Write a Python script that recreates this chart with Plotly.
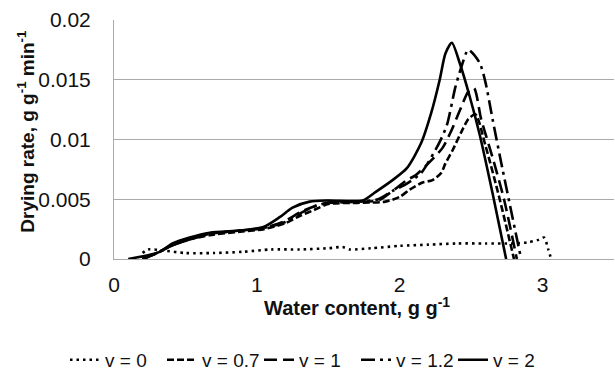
import plotly.graph_objects as go

# Water content (g g-1) and drying rate (g g-1 min-1) for each air velocity
x_v0 = [0.20, 0.24, 0.35, 0.50, 0.70, 0.90, 1.10, 1.30, 1.50, 1.60, 1.65, 1.80, 2.00, 2.20,
        2.40, 2.60, 2.80, 2.90, 2.97, 3.01, 3.04, 3.06]
y_v0 = [0.0005, 0.0008, 0.0007, 0.0005, 0.0005, 0.0006, 0.0008, 0.0008, 0.0009, 0.0010, 0.0008,
        0.0009, 0.0011, 0.0012, 0.0013, 0.0013, 0.0013, 0.0014, 0.0016, 0.0018, 0.0008, 0.0]

x_v07 = [0.20, 0.30, 0.40, 0.52, 0.67, 0.90, 1.05, 1.20, 1.30, 1.40, 1.50, 1.70, 1.90, 2.00,
         2.07, 2.16, 2.23, 2.29, 2.32, 2.37, 2.43, 2.48, 2.53, 2.60, 2.70, 2.80]
y_v07 = [0.0, 0.0005, 0.0011, 0.0016, 0.0020, 0.0023, 0.0025, 0.0030, 0.0036, 0.0041, 0.0046,
         0.0047, 0.0048, 0.0052, 0.0058, 0.0064, 0.0066, 0.0072, 0.0080, 0.0091, 0.0106, 0.0117,
         0.0121, 0.0095, 0.0050, 0.0]

x_v1 = [0.20, 0.30, 0.40, 0.52, 0.67, 0.90, 1.05, 1.20, 1.30, 1.40, 1.50, 1.70, 1.85, 1.95,
        2.05, 2.11, 2.20, 2.30, 2.36, 2.43, 2.48, 2.52, 2.57, 2.65, 2.73, 2.82]
y_v1 = [0.0, 0.0005, 0.0011, 0.0016, 0.0021, 0.0024, 0.0026, 0.0032, 0.0039, 0.0044, 0.0047,
        0.0048, 0.0049, 0.0057, 0.0066, 0.0070, 0.0080, 0.0093, 0.0107, 0.0127, 0.0140, 0.0143,
        0.0117, 0.0085, 0.0050, 0.0]

x_v12 = [0.20, 0.30, 0.40, 0.52, 0.67, 0.90, 1.05, 1.20, 1.30, 1.40, 1.50, 1.70, 1.85, 1.95,
         2.05, 2.15, 2.22, 2.28, 2.33, 2.39, 2.43, 2.48, 2.56, 2.60, 2.65, 2.72, 2.85]
y_v12 = [0.0, 0.0005, 0.0011, 0.0016, 0.0021, 0.0024, 0.0026, 0.0031, 0.0038, 0.0044, 0.0047,
         0.0048, 0.0050, 0.0057, 0.0063, 0.0072, 0.0085, 0.0098, 0.0112, 0.0144, 0.0160, 0.0175,
         0.0164, 0.0148, 0.0117, 0.0075, 0.0]

x_v2 = [0.10, 0.23, 0.32, 0.41, 0.53, 0.67, 0.90, 1.05, 1.16, 1.25, 1.37, 1.50, 1.74, 1.83,
        1.95, 2.05, 2.15, 2.22, 2.28, 2.32, 2.365, 2.42, 2.49, 2.56, 2.65, 2.745]
y_v2 = [0.0, 0.0003, 0.0006, 0.0013, 0.0018, 0.0022, 0.0024, 0.0027, 0.0035, 0.0043, 0.0048,
        0.0049, 0.0049, 0.0056, 0.0066, 0.0076, 0.0097, 0.0122, 0.0150, 0.0172, 0.0181, 0.0164,
        0.0136, 0.0104, 0.0055, 0.0]

labels = ["v = 0", "v = 0.7", "v = 1", "v = 1.2", "v = 2"]
xs = [x_v0, x_v07, x_v1, x_v12, x_v2]
ys = [y_v0, y_v07, y_v1, y_v12, y_v2]
dashes = ["2.5px,4px", "7px,3px", "13px,6px", "14px,5px,3px,5px", "solid"]

x_ticks = [0, 1, 2, 3]
y_ticks = [0, 0.005, 0.01, 0.015, 0.02]

FONT = "Liberation Sans, Arial, sans-serif"
GRID = "#A7ABAE"
INK = "#111111"

fig = go.Figure()
for xv, yv, name, dash in zip(xs, ys, labels, dashes):
    fig.add_trace(go.Scatter(
        x=xv, y=yv, mode="lines", name=name,
        line=dict(color="black", width=2.6, dash=dash, shape="spline", smoothing=0.7),
    ))

fig.update_layout(
    width=615, height=380,
    margin=dict(l=114, r=1, t=20, b=121),
    paper_bgcolor="white", plot_bgcolor="white",
    font=dict(family=FONT, color=INK),
    showlegend=True,
    legend=dict(
        orientation="h", xref="container", yref="container",
        x=0.5, xanchor="center", y=0.053, yanchor="middle",
        font=dict(size=19, family=FONT, color=INK),
        itemwidth=30, tracegroupgap=0,
        entrywidth=52, entrywidthmode="pixels",
    ),
    xaxis=dict(
        range=[0, 3.5], tickvals=x_ticks, showgrid=False, zeroline=False,
        showline=True, linecolor=GRID, linewidth=1, ticks="",
        tickfont=dict(size=21), ticklabelstandoff=7,
    ),
    yaxis=dict(
        range=[0, 0.02], tickvals=y_ticks, showgrid=True, gridcolor=GRID, gridwidth=1,
        zeroline=False, showline=True, linecolor=GRID, linewidth=1, ticks="",
        tickfont=dict(size=21), ticklabelstandoff=18,
    ),
    annotations=[
        dict(text="<b>Water content, g g<sup>-1</sup></b>", xref="paper", yref="paper",
             x=0.486, y=-0.2, xanchor="center", yanchor="middle", showarrow=False,
             font=dict(size=20, family=FONT, color=INK)),
        dict(text="<b>Drying rate, g g<sup>-1</sup> min<sup>-1</sup></b>", xref="paper",
             yref="paper", x=-0.175, y=0.535, xanchor="center", yanchor="middle",
             textangle=-90, showarrow=False,
             font=dict(size=19, family=FONT, color=INK)),
    ],
)

fig.write_html("out.html")
